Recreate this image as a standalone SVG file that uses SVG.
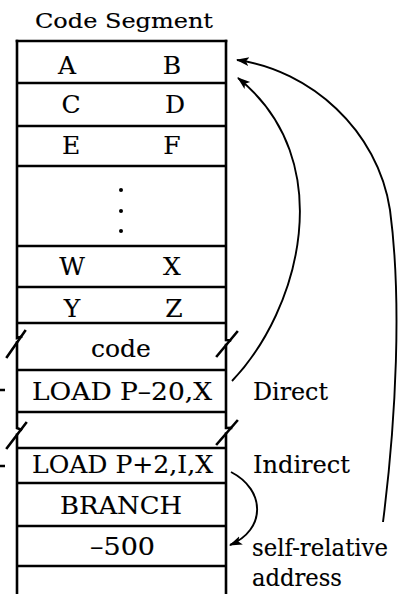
<svg xmlns="http://www.w3.org/2000/svg" width="406" height="594" viewBox="0 0 406 594">
<style>
text{font-family:"DejaVu Serif","Liberation Serif",serif;font-size:25px;fill:#000;stroke:#000;stroke-width:0.15}
.t{font-size:21px}
.m{text-anchor:middle}
.b{stroke:#000;stroke-width:2.6;fill:none;stroke-linecap:square}
.r{stroke:#000;stroke-width:2.3;fill:none}
.a{stroke:#000;stroke-width:1.9;fill:none;marker-end:url(#ah)}
</style>
<defs>
<marker id="ah" markerUnits="userSpaceOnUse" markerWidth="14" markerHeight="10" refX="12" refY="4.5" orient="auto">
<path d="M0,0 L13,4.5 L0,9 L3,4.5 z" fill="#000"/>
</marker>
</defs>
<rect width="406" height="594" fill="#fff"/>
<text id="title" class="t" x="35" y="28" textLength="178" lengthAdjust="spacingAndGlyphs">Code Segment</text>
<g id="segment">
<path class="b" d="M17,41 H226"/>
<path class="b" d="M17,41 V338 L21,336.8"/>
<path class="b" d="M25,331 L7,357"/>
<path class="b" d="M17,342.6 V428 L21,429.6"/>
<path class="b" d="M26,423 L7,448"/>
<path class="b" d="M17,434.8 V594"/>
<path class="b" d="M226,41 V340 L230,340.4"/>
<path class="b" d="M237,332 L217,356"/>
<path class="b" d="M226,345 V428 L231,427.9"/>
<path class="b" d="M237,421 L217,444"/>
<path class="b" d="M226,433.7 V594"/>
<path class="r" d="M17,83 H226 M17,126 H226 M17,166 H226 M17,246 H226 M17,287 H226 M17,323 H226 M17,370 H226 M17,412 H226 M17,448 H226 M17,483 H226 M17,526 H226 M17,566 H226"/>
<path class="r" d="M0,390 H5 M0,466 H5"/>
</g>
<g id="row-ab"><text class="m" x="67" y="74">A</text><text class="m" x="172" y="74">B</text></g>
<g id="row-cd"><text class="m" x="71" y="113">C</text><text class="m" x="175" y="113">D</text></g>
<g id="row-ef"><text class="m" x="71" y="154">E</text><text class="m" x="172" y="154">F</text></g>
<g id="row-dots"><circle cx="121" cy="190" r="2"/><circle cx="121" cy="211" r="2"/><circle cx="121" cy="231" r="2"/></g>
<g id="row-wx"><text class="m" x="72" y="275">W</text><text class="m" x="172" y="275">X</text></g>
<g id="row-yz"><text class="m" x="72" y="317">Y</text><text class="m" x="174" y="317">Z</text></g>
<g id="row-code"><text class="m" x="121" y="357">code</text></g>
<g id="row-load-direct"><text x="32" y="400" textLength="180" lengthAdjust="spacingAndGlyphs">LOAD P–20,X</text></g>
<g id="row-load-indirect"><text x="32" y="473" textLength="181" lengthAdjust="spacingAndGlyphs">LOAD P+2,I,X</text></g>
<g id="row-branch"><text x="60" y="514" textLength="122" lengthAdjust="spacingAndGlyphs">BRANCH</text></g>
<g id="row-500"><text x="90" y="555" textLength="65" lengthAdjust="spacingAndGlyphs">–500</text></g>
<g id="labels">
<text x="253" y="400" textLength="75" lengthAdjust="spacingAndGlyphs">Direct</text>
<text x="253" y="473" textLength="97" lengthAdjust="spacingAndGlyphs">Indirect</text>
<text x="252" y="556" textLength="136" lengthAdjust="spacingAndGlyphs">self-relative</text>
<text x="252" y="586" textLength="90" lengthAdjust="spacingAndGlyphs">address</text>
</g>
<g id="connectors">
<path class="a" d="M232,381 C300,310 340,160 238,78"/>
<path class="a" d="M383,522 C396,420 402,300 390,210 C378,130 310,70 237,60"/>
<path class="a" d="M231,472 C266,490 266,530 230,545"/>
</g>
</svg>
